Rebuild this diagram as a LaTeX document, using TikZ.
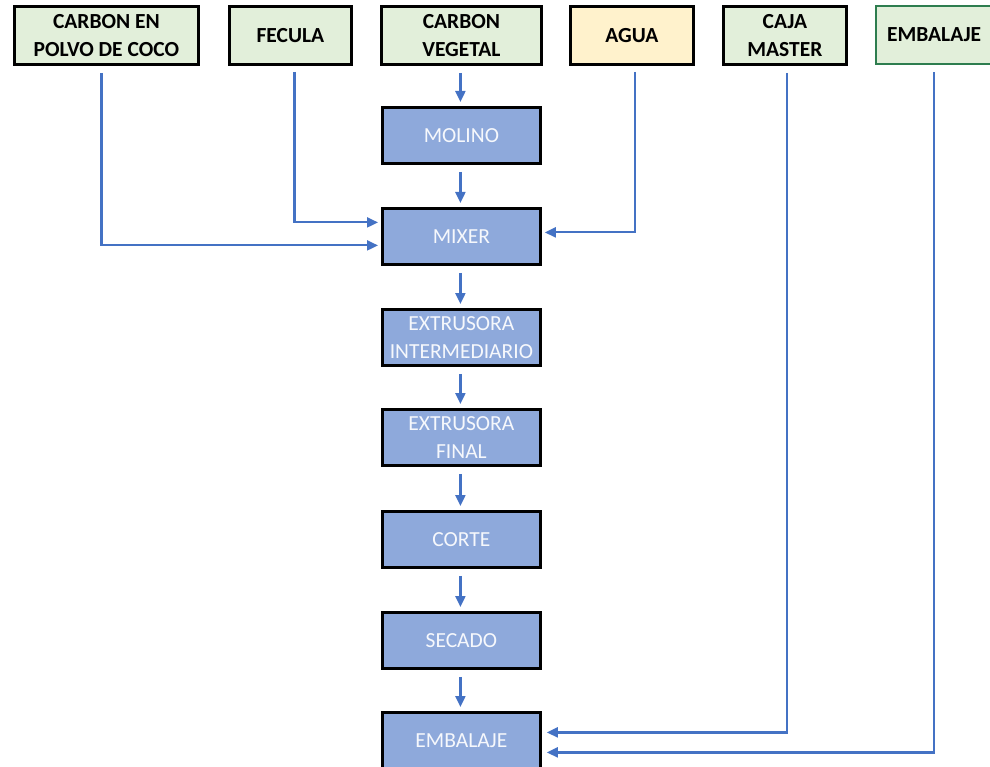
\documentclass[tikz,border=0pt]{standalone}
\usepackage{fontspec}
\setmainfont{Carlito}
\usetikzlibrary{arrows.meta}
\definecolor{topfill}{HTML}{E2EFDA}
\definecolor{aguafill}{HTML}{FFF2CC}
\definecolor{procfill}{HTML}{8EA9DB}
\definecolor{arrblue}{HTML}{4472C4}
\definecolor{embgreen}{HTML}{2E7D4F}
\begin{document}
\begin{tikzpicture}[x=1pt,y=-1pt,
  topbox/.style={draw=black, line width=2.8pt, fill=topfill, anchor=north west, inner sep=0pt,
    align=center, font=\fontsize{21.5}{28}\selectfont\bfseries, text=black},
  procbox/.style={draw=black, line width=2.8pt, fill=procfill, anchor=north west, inner sep=0pt,
    align=center, font=\fontsize{21.5}{28}\selectfont, text=white!92!procfill,
    minimum width=158pt, minimum height=56pt},
  arr/.style={draw=arrblue, line width=2.2pt, -{Triangle[length=11pt,width=10pt]}}
]
\useasboundingbox (0,0) rectangle (990,767);
% top inputs
\node[topbox, minimum width=184pt, minimum height=58pt] (c1) at (13,5) {CARBON EN\\POLVO DE COCO};
\node[topbox, minimum width=122pt, minimum height=58pt] (c2) at (228,5) {FECULA};
\node[topbox, minimum width=160pt, minimum height=58pt] (c3) at (380,5) {CARBON\\VEGETAL};
\node[topbox, fill=aguafill, minimum width=123pt, minimum height=58pt] (c4) at (569,5) {AGUA};
\node[topbox, minimum width=123pt, minimum height=58pt] (c5) at (722,5) {CAJA\\MASTER};
\node[topbox, draw=embgreen, line width=2.2pt, minimum width=130pt, minimum height=58pt] (c6) at (875,5) {\hspace*{-14pt}EMBALAJE};
% process
\node[procbox] (molino) at (381,106) {MOLINO};
\node[procbox] (mixer) at (381,207) {MIXER};
\node[procbox] (ext1) at (381,308) {EXTRUSORA\\INTERMEDIARIO};
\node[procbox] (ext2) at (381,408) {EXTRUSORA\\FINAL};
\node[procbox] (corte) at (381,510) {CORTE};
\node[procbox] (secado) at (381,611) {SECADO};
\node[procbox] (emb) at (381,711) {EMBALAJE};
% vertical chain
\draw[arr] ([xshift=-1pt,yshift=-7pt]c3.south) -- ([xshift=-1pt,yshift=4pt]molino.north);
\draw[arr] ([xshift=-1pt,yshift=-7pt]molino.south) -- ([xshift=-1pt,yshift=4pt]mixer.north);
\draw[arr] ([xshift=-1pt,yshift=-7pt]mixer.south) -- ([xshift=-1pt,yshift=4pt]ext1.north);
\draw[arr] ([xshift=-1pt,yshift=-7pt]ext1.south) -- ([xshift=-1pt,yshift=4pt]ext2.north);
\draw[arr] ([xshift=-1pt,yshift=-7pt]ext2.south) -- ([xshift=-1pt,yshift=4pt]corte.north);
\draw[arr] ([xshift=-1pt,yshift=-7pt]corte.south) -- ([xshift=-1pt,yshift=4pt]secado.north);
\draw[arr] ([xshift=-1pt,yshift=-7pt]secado.south) -- ([xshift=-1pt,yshift=4pt]emb.north);
% side inputs
\draw[arr] ([xshift=-5pt,yshift=-7pt]c1.south) |- ([xshift=-3pt,yshift=-9pt]mixer.west);
\draw[arr] ([xshift=4pt,yshift=-6pt]c2.south) |- ([xshift=-3pt,yshift=14pt]mixer.west);
\draw[arr] ([xshift=3pt,yshift=-6pt]c4.south) |- ([xshift=3pt,yshift=4pt]mixer.east);
\draw[arr] ([xshift=2pt,yshift=-7pt]c5.south) |- ([xshift=5pt,yshift=8pt]emb.east);
\draw[arr] ([xshift=-7pt,yshift=-7pt]c6.south) |- ([xshift=5pt,yshift=-12pt]emb.east);
\end{tikzpicture}
\end{document}
